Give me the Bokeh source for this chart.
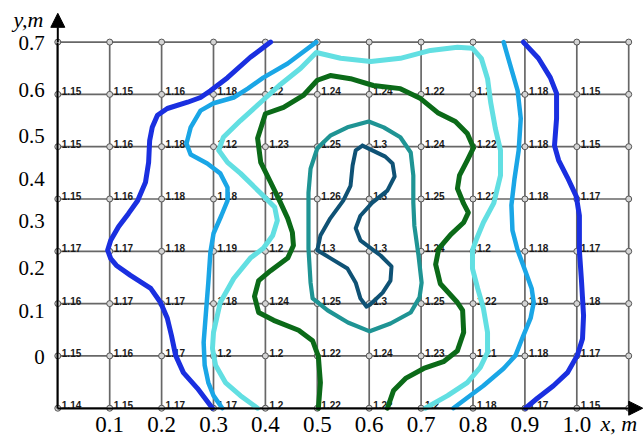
from bokeh.plotting import figure
from bokeh.models import Range1d, FixedTicker, Label, Arrow, NormalHead, ColumnDataSource, CustomJSTickFormatter
from bokeh.core.properties import value
from bokeh.embed import file_html
from bokeh.resources import INLINE

# ---------------- data ----------------
grid_x = [0.0, 0.1, 0.2, 0.3, 0.4, 0.5, 0.6, 0.7, 0.8, 0.9, 1.0, 1.1]
grid_y = [0.0, 0.1, 0.2, 0.3, 0.4, 0.5, 0.6, 0.7]

node_x = [0.0, 0.1, 0.2, 0.3, 0.4, 0.5, 0.6, 0.7, 0.8, 0.9, 1.0]
node_row_y = [0.6, 0.5, 0.4, 0.3, 0.2, 0.1, 0.0]
row_06 = [1.15, 1.15, 1.16, 1.18, 1.2, 1.24, 1.24, 1.22, 1.2, 1.18, 1.15]
row_05 = [1.15, 1.16, 1.18, 1.12, 1.23, 1.25, 1.3, 1.24, 1.22, 1.18, 1.15]
row_04 = [1.15, 1.16, 1.18, 1.18, 1.2, 1.26, 1.3, 1.25, 1.22, 1.18, 1.17]
row_03 = [1.17, 1.17, 1.18, 1.19, 1.2, 1.3, 1.3, 1.24, 1.2, 1.18, 1.17]
row_02 = [1.16, 1.17, 1.17, 1.18, 1.24, 1.25, 1.3, 1.25, 1.22, 1.19, 1.18]
row_01 = [1.15, 1.16, 1.17, 1.2, 1.2, 1.22, 1.24, 1.23, 1.21, 1.18, 1.17]
row_00 = [1.14, 1.15, 1.17, 1.17, 1.2, 1.22, 1.22, 1.2, 1.18, 1.17, 1.15]

x_tick_pos = [0.1, 0.2, 0.3, 0.4, 0.5, 0.6, 0.7, 0.8, 0.9, 1.0]
x_tick_labels = ["0.1", "0.2", "0.3", "0.4", "0.5", "0.6", "0.7", "0.8", "0.9", "1.0"]
y_tick_pos = [0.097, 0.185, 0.269, 0.357, 0.439, 0.5195, 0.6075, 0.699]
y_tick_labels = ["0", "0.1", "0.2", "0.3", "0.4", "0.5", "0.6", "0.7"]

# contour lines
blue_l_x = [0.410, 0.371, 0.327, 0.294, 0.275, 0.250, 0.211, 0.192, 0.182, 0.177, 0.175, 0.169, 0.154, 0.136, 0.117, 0.102, 0.096, 0.102, 0.113, 0.140, 0.179, 0.198, 0.211, 0.219, 0.227, 0.242, 0.269, 0.298]
blue_l_y = [0.700, 0.671, 0.632, 0.607, 0.594, 0.585, 0.573, 0.560, 0.537, 0.512, 0.470, 0.432, 0.397, 0.372, 0.347, 0.321, 0.302, 0.286, 0.273, 0.254, 0.229, 0.202, 0.172, 0.139, 0.101, 0.068, 0.038, 0.0]
blue_r_x = [0.897, 0.926, 0.949, 0.961, 0.961, 0.957, 0.965, 0.982, 0.999, 1.005, 1.005, 1.009, 1.013, 1.011, 1.001, 0.982, 0.955, 0.924, 0.901]
blue_r_y = [0.700, 0.669, 0.632, 0.602, 0.554, 0.502, 0.474, 0.441, 0.405, 0.368, 0.301, 0.244, 0.177, 0.133, 0.101, 0.068, 0.043, 0.019, 0.0]
lblue_l_x = [0.498, 0.443, 0.396, 0.366, 0.339, 0.300, 0.275, 0.256, 0.248, 0.256, 0.288, 0.313, 0.327, 0.327, 0.315, 0.300, 0.294, 0.290, 0.285, 0.281, 0.283, 0.290, 0.300, 0.317]
lblue_l_y = [0.700, 0.659, 0.632, 0.611, 0.594, 0.583, 0.569, 0.537, 0.506, 0.485, 0.468, 0.449, 0.422, 0.397, 0.368, 0.334, 0.298, 0.240, 0.177, 0.126, 0.082, 0.049, 0.024, 0.0]
lblue_r_x = [0.859, 0.872, 0.886, 0.892, 0.888, 0.880, 0.874, 0.876, 0.886, 0.899, 0.913, 0.917, 0.911, 0.897, 0.882, 0.859, 0.820, 0.789, 0.762]
lblue_r_y = [0.700, 0.655, 0.607, 0.554, 0.493, 0.439, 0.388, 0.340, 0.302, 0.267, 0.229, 0.202, 0.172, 0.139, 0.101, 0.076, 0.043, 0.020, 0.0]
cyan_x = [0.385, 0.352, 0.323, 0.304, 0.298, 0.300, 0.313, 0.339, 0.371, 0.396, 0.414, 0.423, 0.418, 0.391, 0.352, 0.327, 0.310, 0.319, 0.352, 0.391, 0.429, 0.468, 0.498, 0.545, 0.603, 0.660, 0.718, 0.770, 0.799, 0.816, 0.828, 0.834, 0.843, 0.853, 0.853, 0.840, 0.820, 0.807, 0.799, 0.799, 0.809, 0.820, 0.828, 0.828, 0.814, 0.789, 0.751, 0.708]
cyan_y = [0.0, 0.024, 0.049, 0.082, 0.114, 0.145, 0.202, 0.248, 0.287, 0.306, 0.330, 0.359, 0.384, 0.411, 0.449, 0.470, 0.493, 0.518, 0.550, 0.585, 0.619, 0.650, 0.680, 0.669, 0.663, 0.669, 0.684, 0.690, 0.688, 0.669, 0.630, 0.585, 0.535, 0.493, 0.445, 0.392, 0.355, 0.324, 0.302, 0.267, 0.229, 0.191, 0.145, 0.107, 0.078, 0.049, 0.024, 0.0]
green_x = [0.502, 0.506, 0.502, 0.491, 0.464, 0.416, 0.387, 0.379, 0.387, 0.410, 0.443, 0.454, 0.452, 0.443, 0.429, 0.410, 0.391, 0.385, 0.400, 0.435, 0.473, 0.500, 0.525, 0.564, 0.608, 0.660, 0.699, 0.732, 0.766, 0.789, 0.801, 0.789, 0.774, 0.770, 0.782, 0.791, 0.782, 0.757, 0.734, 0.728, 0.737, 0.770, 0.780, 0.782, 0.770, 0.743, 0.705, 0.670, 0.647, 0.635]
green_y = [0.0, 0.049, 0.099, 0.129, 0.149, 0.168, 0.183, 0.214, 0.244, 0.263, 0.287, 0.311, 0.336, 0.363, 0.393, 0.432, 0.470, 0.516, 0.563, 0.575, 0.598, 0.627, 0.636, 0.630, 0.617, 0.611, 0.592, 0.565, 0.548, 0.525, 0.498, 0.474, 0.445, 0.420, 0.391, 0.374, 0.355, 0.332, 0.305, 0.275, 0.238, 0.202, 0.187, 0.145, 0.110, 0.089, 0.076, 0.057, 0.034, 0.0]
teal_x = [0.599, 0.628, 0.660, 0.680, 0.685, 0.685, 0.687, 0.695, 0.701, 0.697, 0.680, 0.641, 0.601, 0.559, 0.520, 0.491, 0.487, 0.483, 0.483, 0.483, 0.487, 0.500, 0.525, 0.558, 0.599]
teal_y = [0.548, 0.537, 0.518, 0.489, 0.445, 0.393, 0.349, 0.292, 0.240, 0.212, 0.183, 0.162, 0.147, 0.164, 0.187, 0.210, 0.240, 0.305, 0.349, 0.412, 0.458, 0.497, 0.521, 0.537, 0.548]
dteal_x = [0.587, 0.606, 0.631, 0.645, 0.649, 0.635, 0.606, 0.583, 0.574, 0.583, 0.622, 0.643, 0.641, 0.626, 0.606, 0.595, 0.583, 0.574, 0.558, 0.525, 0.500, 0.506, 0.525, 0.550, 0.564, 0.568, 0.574, 0.587]
dteal_y = [0.502, 0.493, 0.481, 0.468, 0.443, 0.416, 0.393, 0.368, 0.344, 0.321, 0.292, 0.271, 0.244, 0.221, 0.202, 0.194, 0.210, 0.240, 0.267, 0.287, 0.302, 0.330, 0.363, 0.397, 0.425, 0.464, 0.493, 0.502]

SERIF = "'Liberation Serif'"

# ---------------- figure ----------------
# the frame fills the whole canvas; the axes are placed at fixed data locations
p = figure(width=643, height=437, x_range=Range1d(-0.1104, 1.1285), y_range=Range1d(-0.0560, 0.7795),
           output_backend="svg", toolbar_location=None,
           min_border_left=0, min_border_right=0, min_border_top=0, min_border_bottom=0)
p.xgrid.visible = False
p.ygrid.visible = False
p.background_fill_color = "white"
p.border_fill_color = "white"
p.outline_line_color = None

grid_col = "#676767"
p.segment(x0=grid_x, y0=[grid_y[0]] * len(grid_x), x1=grid_x, y1=[grid_y[-1]] * len(grid_x),
          line_color=grid_col, line_width=1.7)
p.segment(x0=[grid_x[0]] * len(grid_y), y0=grid_y, x1=[grid_x[-1]] * len(grid_y), y1=grid_y,
          line_color=grid_col, line_width=1.7)

nx, ny = [], []
for gy in grid_y:
    for gx in grid_x:
        nx.append(gx)
        ny.append(gy)
p.scatter(nx, ny, marker="circle", size=6, fill_color="#d4d4d4", line_color="#555555", line_width=1)

rows = [row_06, row_05, row_04, row_03, row_02, row_01, row_00]
tx, ty, tt = [], [], []
for ry, row in zip(node_row_y, rows):
    for vx, v in zip(node_x, row):
        tx.append(vx)
        ty.append(ry)
        tt.append(f"{v:g}")
src = ColumnDataSource(dict(x=tx, y=ty, t=tt))
p.text(x="x", y="y", text="t", source=src, x_offset=4, y_offset=-3,
       text_font=value("'Liberation Sans'"), text_font_style="bold", text_font_size="10px",
       text_color="#1a1a1a", text_align="left", text_baseline="alphabetic")

curves = [
    (blue_l_x, blue_l_y, "#1a2fe0", 5),
    (blue_r_x, blue_r_y, "#1a2fe0", 5),
    (lblue_l_x, lblue_l_y, "#1aa6e6", 4.5),
    (lblue_r_x, lblue_r_y, "#1aa6e6", 4.5),
    (cyan_x, cyan_y, "#62dfe2", 5),
    (green_x, green_y, "#0b6a18", 5),
    (teal_x, teal_y, "#1f9494", 4.2),
    (dteal_x, dteal_y, "#0f5275", 4),
]
for cx, cy, col, lw in curves:
    p.line(cx, cy, line_color=col, line_width=lw, line_join="round", line_cap="round")

# axes at fixed locations (x = 0 and y = 0 of the grid)
for ax in (p.xaxis, p.yaxis):
    ax.fixed_location = 0
    ax.axis_line_color = "black"
    ax.axis_line_width = 2
    ax.major_tick_line_color = None
    ax.minor_tick_line_color = None
    ax.major_label_text_font = SERIF
    ax.major_label_text_font_style = "normal"
    ax.major_label_text_color = "black"

p.xaxis.bounds = (grid_x[0], grid_x[-1])
p.xaxis.ticker = FixedTicker(ticks=x_tick_pos)
p.xaxis.formatter = CustomJSTickFormatter(args=dict(pos=x_tick_pos, lab=x_tick_labels),
    code="const i = pos.findIndex(v => Math.abs(v - tick) < 1e-6); return i >= 0 ? lab[i] : '';")
p.xaxis.major_label_text_font_size = "23px"
p.xaxis.major_label_standoff = 3

p.yaxis.bounds = (grid_y[0], grid_y[-1])
p.yaxis.ticker = FixedTicker(ticks=y_tick_pos)
p.yaxis.formatter = CustomJSTickFormatter(args=dict(pos=y_tick_pos, lab=y_tick_labels),
    code="const i = pos.findIndex(v => Math.abs(v - tick) < 1e-6); return i >= 0 ? lab[i] : '';")
p.yaxis.major_label_text_font_size = "21px"
p.yaxis.major_label_standoff = 7

# arrows and axis names
p.add_layout(Arrow(end=NormalHead(size=14, fill_color="black", line_color="black"),
                   x_start=grid_x[0], y_start=grid_y[-1], x_end=grid_x[0], y_end=0.755,
                   line_width=2, line_color="black"))
p.add_layout(Arrow(end=NormalHead(size=14, fill_color="black", line_color="black"),
                   x_start=grid_x[-1], y_start=grid_y[0], x_end=1.127, y_end=grid_y[0],
                   line_width=2, line_color="black"))
p.add_layout(Label(x=-0.0854, y=0.7432, text="y,m", text_font=SERIF, text_font_style="italic",
                   text_font_size="22px", text_baseline="middle", text_align="left", text_color="black"))
p.add_layout(Label(x=1.0457, y=-0.0293, text="x, m", text_font=SERIF, text_font_style="italic",
                   text_font_size="22px", text_baseline="middle", text_align="left", text_color="black"))

open("out.html", "w").write(file_html(p, INLINE))
